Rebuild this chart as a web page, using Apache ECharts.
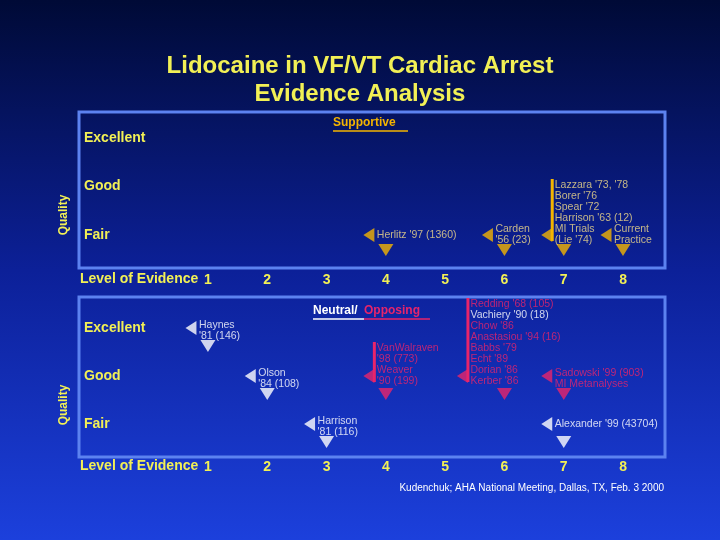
<!DOCTYPE html>
<html><head><meta charset="utf-8">
<script src="https://cdn.jsdelivr.net/npm/echarts@6/dist/echarts.min.js"></script>
<style>html,body{margin:0;padding:0;}#c{width:720px;height:540px;}</style>
</head><body><div id="c"></div>
<script>
const levelTicks = [1, 2, 3, 4, 5, 6, 7, 8];
const qualityNames = ['Fair', 'Good', 'Excellent'];

// Supportive studies (top panel)
const supLabels = ["Herlitz '97 (1360)", "Carden\n'56 (23)", "Lazzara '73, '78\nBorer '76\nSpear '72\nHarrison '63 (12)\nMI Trials\n(Lie '74)", "Current\nPractice"];
const supLevel = [4, 6, 7, 8];
const supQuality = [1, 1, 1, 1];

// Neutral / opposing studies (bottom panel)
const oppLabels = ["Haynes\n'81 (146)", "Olson\n'84 (108)", "Harrison\n'81 (116)", "VanWalraven\n'98 (773)\nWeaver\n'90 (199)", "Redding '68 (105)\nVachiery '90 (18)\nChow '86\nAnastasiou '94 (16)\nBabbs '79\nEcht '89\nDorian '86\nKerber '86", "Sadowski '99 (903)\nMI Metanalyses", "Alexander '99 (43704)"];
const oppLevel = [1, 2, 3, 4, 6, 7, 7];
const oppQuality = [3, 2, 1, 2, 2, 2, 1];
const oppKind = ['neutral', 'neutral', 'neutral', 'opposing', 'opposing', 'opposing', 'neutral'];
const neutralLinesInOpposing = ["Vachiery '90 (18)"];

const GOLD = '#f4b400', GOLDTXT = '#f2dc8a', PINK = '#e8246a', WHITE = '#ffffff', YEL = '#f2f055';
const FONT = '"Liberation Sans", Arial, sans-serif';

function labelDy(text, panel) {
  const n = text.split('\n').length;
  if (n === 1) return 0;
  if (n === 2) return panel === 'top' ? 0 : 3;
  return -(n * 11) / 2 + 11;
}
function leftOff(text) { return text.split('\n').length >= 8 ? -42 : -17; }

function buildPanel(labels, levels, quals, colors, txtColors, gridIndex, panel) {
  const downDy = panel === 'top' ? 15 : 18;
  const series = [];
  series.push({
    type: 'scatter', xAxisIndex: gridIndex, yAxisIndex: gridIndex, symbol: 'triangle',
    symbolRotate: 180, symbolSize: [15, 12], symbolOffset: [0, downDy], silent: true,
    data: levels.map((l, i) => ({ value: [l, quals[i]], itemStyle: { color: colors[i] } }))
  });
  series.push({
    type: 'scatter', xAxisIndex: gridIndex, yAxisIndex: gridIndex, symbol: 'triangle',
    symbolRotate: 90, symbolSize: [14, 11], silent: true,
    data: levels.map((l, i) => ({ value: [l, quals[i]], symbolOffset: [leftOff(labels[i]), 0], itemStyle: { color: colors[i] } }))
  });
  series.push({
    type: 'scatter', xAxisIndex: gridIndex, yAxisIndex: gridIndex, symbolSize: 0, silent: true,
    data: levels.map((l, i) => {
      const lines = labels[i].split('\n');
      const rich = { p: { color: txtColors[i], fontSize: 10.5, lineHeight: 11, fontFamily: FONT }, w: { color: WHITE, fontSize: 10.5, lineHeight: 11, fontFamily: FONT } };
      const txt = lines.map(s => (neutralLinesInOpposing.includes(s) ? '{w|' + s + '}' : '{p|' + s + '}')).join('\n');
      return { value: [l, quals[i]], label: { show: true, position: 'right', distance: 0, align: 'left', offset: [leftOff(labels[i]) + 8, labelDy(labels[i], panel)], formatter: txt, rich: rich } };
    })
  });
  series.push({
    type: 'custom', xAxisIndex: gridIndex, yAxisIndex: gridIndex, silent: true,
    data: levels.map((l, i) => [l, quals[i], i]).filter(d => labels[d[2]].split('\n').length >= 4),
    renderItem: function (params, api) {
      const i = api.value(2);
      const p = api.coord([api.value(0), api.value(1)]);
      const n = labels[i].split('\n').length;
      const cy = p[1] + labelDy(labels[i], panel);
      const top = cy - n * 11 / 2 - 1;
      const bottom = p[1] + 6;
      const x = p[0] + leftOff(labels[i]) + 4;
      return { type: 'rect', shape: { x: x, y: top, width: 3, height: bottom - top }, style: { fill: colors[i] } };
    }
  });
  return series;
}

const topSeries = buildPanel(supLabels, supLevel, supQuality, supLabels.map(() => GOLD), supLabels.map(() => GOLDTXT), 0, 'top');
const botSeries = buildPanel(oppLabels, oppLevel, oppQuality,
  oppKind.map(k => k === 'opposing' ? PINK : WHITE), oppKind.map(k => k === 'opposing' ? PINK : WHITE), 1, 'bottom');

function xAxis(gi, margin) {
  return { type: 'value', gridIndex: gi, min: -1.175, max: 8.708,
    axisLine: { show: false }, axisTick: { show: false }, splitLine: { show: false },
    axisLabel: { customValues: levelTicks, color: YEL, fontWeight: 'bold', fontSize: 14, fontFamily: FONT, margin: margin } };
}
function yAxis(gi, min, max) {
  return { type: 'value', gridIndex: gi, min: min, max: max,
    axisLine: { show: false }, axisTick: { show: false }, splitLine: { show: false },
    axisLabel: { customValues: [1, 2, 3], inside: true, margin: 5, formatter: v => qualityNames[Math.round(v) - 1],
      color: YEL, fontWeight: 'bold', fontSize: 14, fontFamily: FONT } };
}
function text(x, y, t, style, extra) {
  return Object.assign({ type: 'text', x: x, y: y, style: Object.assign({ text: t, font: 'bold 14px ' + FONT, fill: YEL }, style) }, extra || {});
}

const chart = echarts.init(document.getElementById('c'));
chart.setOption({
  backgroundColor: { type: 'linear', x: 0, y: 0, x2: 0, y2: 1, colorStops: [{ offset: 0, color: '#000a36' }, { offset: 0.5, color: '#0c2098' }, { offset: 1, color: '#1c40dc' }] },
  title: { text: 'Lidocaine in VF/VT Cardiac Arrest\nEvidence Analysis', left: 'center', top: 47,
    textStyle: { color: YEL, fontSize: 24, fontWeight: 'bold', fontFamily: FONT, lineHeight: 28 } },
  grid: [
    { left: 79, right: 55, top: 112, bottom: 272, show: true, borderColor: '#5c82f0', borderWidth: 3, backgroundColor: 'transparent' },
    { left: 79, right: 55, top: 297, bottom: 83, show: true, borderColor: '#5c82f0', borderWidth: 3, backgroundColor: 'transparent' }
  ],
  xAxis: [xAxis(0, 5), xAxis(1, 3)],
  yAxis: [yAxis(0, 0.32, 3.536), yAxis(1, 0.3125, 3.646)],
  graphic: [
    text(80, 272, 'Level of Evidence'),
    text(80, 459, 'Level of Evidence'),
    text(64, 215, 'Quality', { font: 'bold 12px ' + FONT, align: 'center', verticalAlign: 'middle' }, { rotation: Math.PI / 2 }),
    text(64, 405, 'Quality', { font: 'bold 12px ' + FONT, align: 'center', verticalAlign: 'middle' }, { rotation: Math.PI / 2 }),
    text(333, 117, 'Supportive', { font: 'bold 12px ' + FONT, fill: GOLD }),
    { type: 'line', shape: { x1: 333, y1: 131, x2: 408, y2: 131 }, style: { stroke: GOLD, lineWidth: 1.5 } },
    text(313, 305, 'Neutral/', { font: 'bold 12px ' + FONT, fill: WHITE }),
    text(364, 305, 'Opposing', { font: 'bold 12px ' + FONT, fill: PINK }),
    { type: 'line', shape: { x1: 313, y1: 319, x2: 364, y2: 319 }, style: { stroke: WHITE, lineWidth: 1.5 } },
    { type: 'line', shape: { x1: 364, y1: 319, x2: 430, y2: 319 }, style: { stroke: PINK, lineWidth: 1.5 } },
    text(664, 483, 'Kudenchuk; AHA National Meeting, Dallas, TX, Feb. 3 2000', { font: '10px ' + FONT, fill: WHITE, align: 'right' })
  ],
  series: topSeries.concat(botSeries)
});
</script></body></html>
